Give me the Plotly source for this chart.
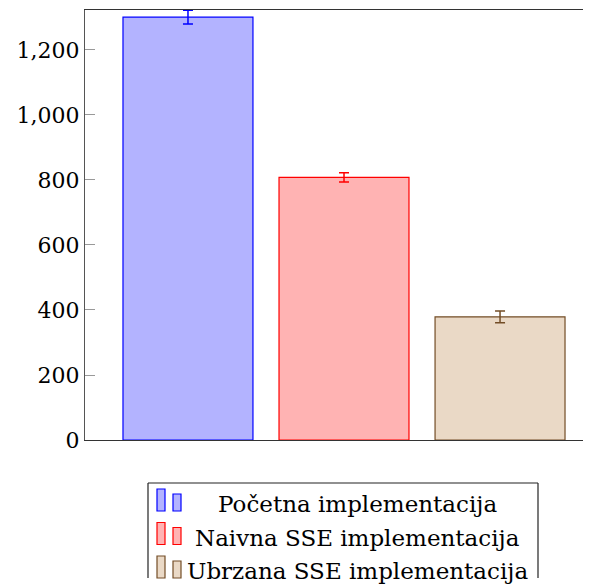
import plotly.graph_objects as go

series_names = ["Početna implementacija", "Naivna SSE implementacija", "Ubrzana SSE implementacija"]
values = [1301, 808, 379]
errors = [21, 14, 18]
line_colors = ["#0000ff", "#ff0000", "#734d26"]
fill_colors = ["#b3b3ff", "#ffb3b3", "#ead9c6"]
y_ticks = [0, 200, 400, 600, 800, 1000, 1200]

OFF = 8  # page body margin
W, H = 591 - OFF, 588 - OFF
L, R, T, B = 85 - OFF, 591 - OFF, 10 - OFF, 440 - OFF  # plot area in figure pixels
FONT = "DejaVu Serif"
FS = 22
LEG_FS = 23

fig = go.Figure()
for name, v, e, lc, fc in zip(series_names, values, errors, line_colors, fill_colors):
    fig.add_trace(go.Bar(
        x=[name], y=[v], width=0.833, name=name,
        marker=dict(color=fc, line=dict(color=lc, width=1.2)),
        error_y=dict(type="data", array=[e], color=lc, thickness=1.5, width=5),
        showlegend=False,
    ))

def px(x):
    return (x - OFF - L) / (R - L)

def py(y):
    return (B - (y - OFF)) / (B - T)

shapes = []
annotations = []
# legend frame (bottom edge cut off by picture)
lx0, lx1, ly0, ly1 = 148, 538, 483, 578
for (x0, y0, x1, y1) in [(lx0, ly0, lx1, ly0), (lx0, ly0, lx0, ly1), (lx1, ly0, lx1, ly1)]:
    shapes.append(dict(type="line", xref="paper", yref="paper", x0=px(x0), y0=py(y0), x1=px(x1), y1=py(y1),
                       line=dict(color="#222", width=1.2)))
row_base = [511, 544.5, 578]
for i, (name, lc, fc) in enumerate(zip(series_names, line_colors, fill_colors)):
    b = row_base[i]
    for (x0, x1, h) in [(157, 165, 22), (173, 181, 17)]:
        shapes.append(dict(type="rect", xref="paper", yref="paper", x0=px(x0), x1=px(x1), y0=py(b), y1=py(b - h),
                           fillcolor=fc, line=dict(color=lc, width=1.2)))
    annotations.append(dict(text=name, xref="paper", yref="paper", x=px(357), y=py(b - 7), xanchor="center",
                            yanchor="middle", showarrow=False, font=dict(family=FONT, size=LEG_FS, color="black")))

fig.update_layout(
    width=W, height=H,
    margin=dict(l=L, r=W - R, t=T, b=H - B, pad=0),
    paper_bgcolor="white", plot_bgcolor="white",
    barmode="overlay",
    font=dict(family=FONT, size=FS, color="black"),
    shapes=shapes, annotations=annotations,
    xaxis=dict(type="category", range=[-0.660, 2.583], showticklabels=False, ticks="",
               showgrid=False, zeroline=False, showline=True, linecolor="#333", linewidth=1.2, mirror=True),
    yaxis=dict(range=[0, 1323], tickvals=y_ticks, tickformat=",", ticks="inside", ticklen=10,
               tickcolor="#999", tickwidth=1, showgrid=False, zeroline=False,
               showline=True, linecolor="#555", linewidth=1.2, mirror=False,
               tickfont=dict(family=FONT, size=FS, color="black")),
)
fig.write_html("out.html")
